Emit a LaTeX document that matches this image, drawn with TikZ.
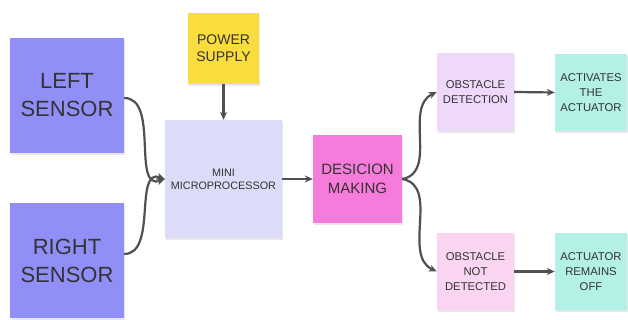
\documentclass[tikz,border=0pt]{standalone}
\usepackage{fontspec}
\setmainfont{Liberation Sans}
\usetikzlibrary{shadows,arrows.meta}
\definecolor{sensorc}{HTML}{8F8FF7}
\definecolor{powerc}{HTML}{F9DC3E}
\definecolor{microc}{HTML}{DCDCF9}
\definecolor{decc}{HTML}{F77BDA}
\definecolor{detc}{HTML}{EFD9FB}
\definecolor{tealc}{HTML}{B3F0E5}
\definecolor{notc}{HTML}{F9D5F1}
\definecolor{txtc}{HTML}{333333}
\definecolor{linec}{HTML}{505050}
\tikzset{
  note/.style={inner sep=0pt, align=center, text=txtc,
    drop shadow={opacity=0.18, shadow xshift=0.6pt, shadow yshift=-2pt}},
  conn/.style={draw=linec, line width=2.2pt, -{Stealth[length=8pt,width=7pt]}},
}
\begin{document}
\begin{tikzpicture}[x=1pt,y=-1pt]
\useasboundingbox[fill=white] (0,0) rectangle (628,320);
\node[note, fill=sensorc, minimum width=114pt, minimum height=115pt,
  font=\fontsize{22}{28}\selectfont] (L) at (67,95.5) {LEFT\\SENSOR};
\node[note, fill=sensorc, minimum width=114pt, minimum height=115pt,
  font=\fontsize{22}{28}\selectfont] (R) at (67,260.5) {RIGHT\\SENSOR};
\node[note, fill=powerc, minimum width=71pt, minimum height=71pt,
  font=\fontsize{14}{17}\selectfont] (P) at (223.5,48.5) {POWER\\SUPPLY};
\node[note, fill=microc, minimum width=117pt, minimum height=118pt,
  font=\fontsize{10.8}{12.7}\selectfont] (M) at (223.5,179) {MINI\\MICROPROCESSOR};
\node[note, fill=decc, minimum width=89pt, minimum height=88pt,
  font=\fontsize{15}{18.5}\selectfont] (D) at (357.5,179) {DESICION\\MAKING};
\node[note, fill=detc, minimum width=77pt, minimum height=78pt,
  font=\fontsize{11.3}{14.7}\selectfont] (OD) at (475.5,92) {OBSTACLE\\DETECTION};
\node[note, fill=tealc, minimum width=72pt, minimum height=77pt,
  font=\fontsize{11.3}{14.7}\selectfont] (A) at (591,92.5) {ACTIVATES\\THE\\ACTUATOR};
\node[note, fill=notc, minimum width=77pt, minimum height=77pt,
  font=\fontsize{11.3}{14.7}\selectfont] (ND) at (475.5,271.5) {OBSTACLE\\NOT\\DETECTED};
\node[note, fill=tealc, minimum width=72pt, minimum height=77pt,
  font=\fontsize{11.3}{14.7}\selectfont] (OFF) at (591,271.5) {ACTUATOR\\REMAINS\\OFF};
\draw[conn] ([yshift=-2.5pt]L.east) to[out=0,in=200] (M.west);
\draw[conn] ([yshift=6.5pt]R.east) to[out=0,in=160] (M.west);
\draw[conn] (P.south) -- (M.north);
\draw[conn] (M.east) -- (D.west);
\draw[conn] (D.east) to[out=10,in=205] (OD.west);
\draw[conn] (D.east) to[out=-10,in=155] (ND.west);
\draw[conn] (OD.east) -- (A.west);
\draw[conn] (ND.east) -- (OFF.west);
\end{tikzpicture}
\end{document}
